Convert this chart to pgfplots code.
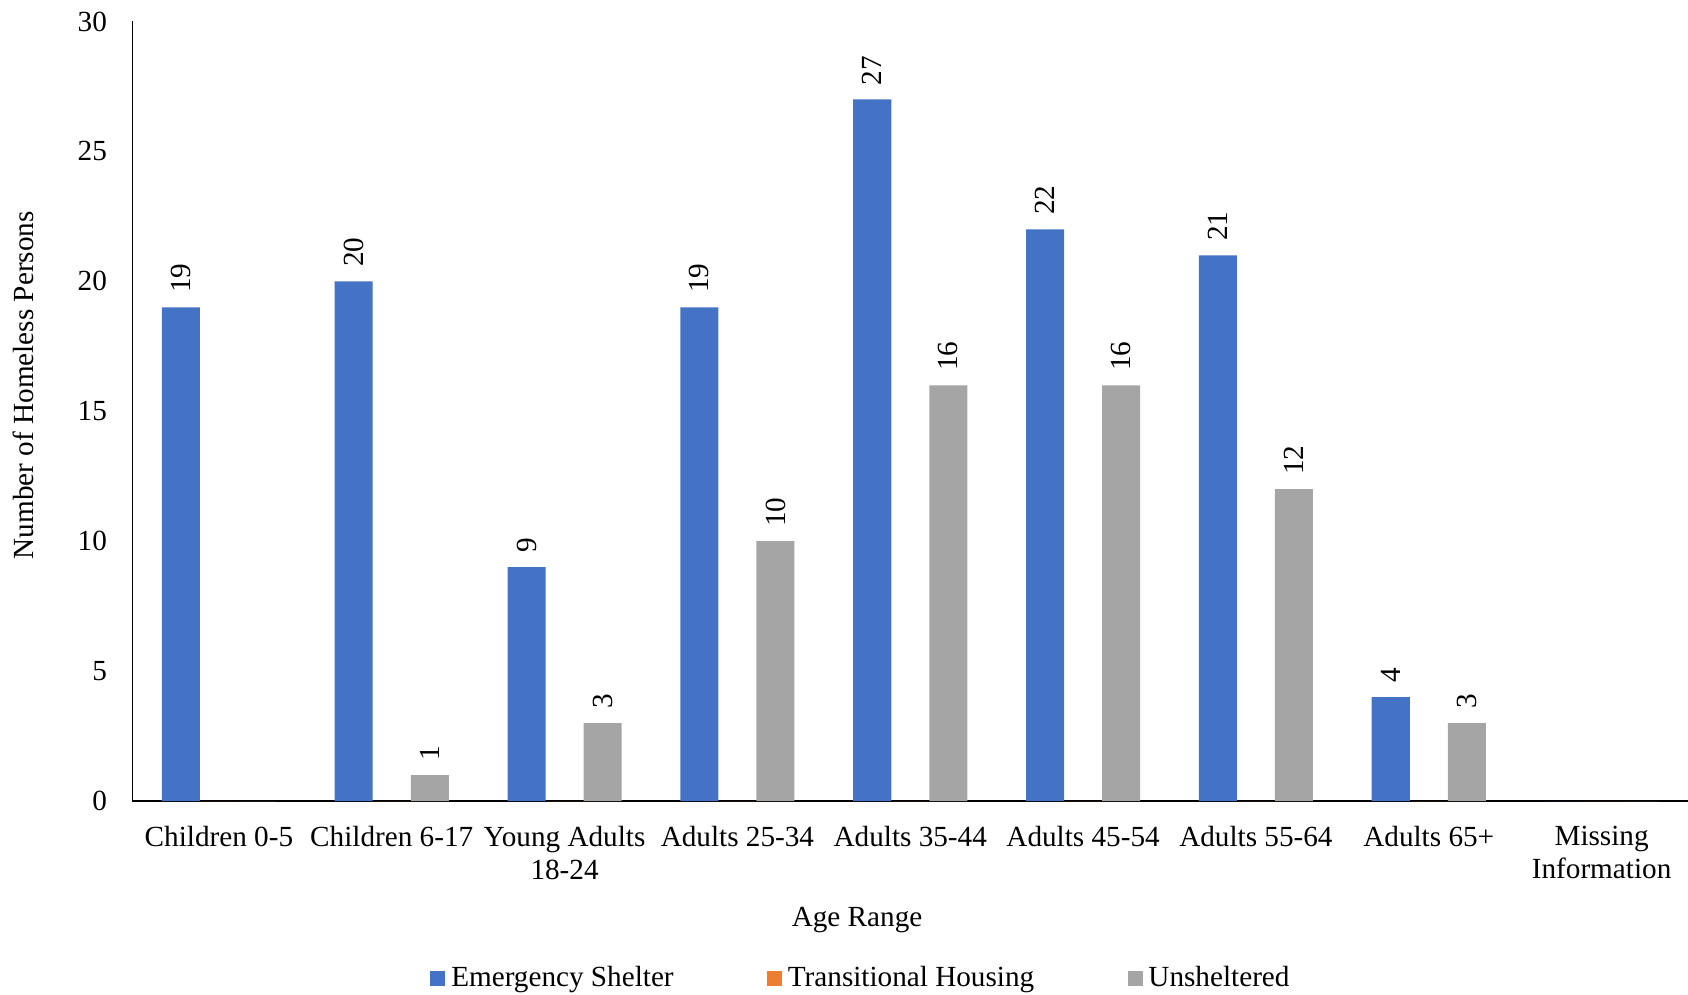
\documentclass[border=0pt]{standalone}
\usepackage{pgfplots}
\pgfplotsset{compat=1.18}
\usepackage{fontspec}
\setmainfont{Liberation Serif}
\definecolor{esblue}{HTML}{4472C4}
\definecolor{thorange}{HTML}{ED7D31}
\definecolor{unsgray}{HTML}{A5A5A5}
\newcommand{\chartfont}{\fontsize{14.6bp}{16.9bp}\selectfont}
\begin{document}
\chartfont
\begin{tikzpicture}
\begin{axis}[
  name=ax,
  scale only axis,
  width=777.75bp, height=389.75bp,
  xmin=-0.5, xmax=8.5,
  ymin=0, ymax=30,
  ytick={0,5,...,30},
  xtick={0,1,2,3,4,5,6,7,8},
  xticklabels={Children 0-5, Children 6-17, Young Adults\\18-24, Adults 25-34, Adults 35-44, Adults 45-54, Adults 55-64, Adults 65+, Missing\\Information},
  /pgf/number format/assume math mode=true,
  major tick length=0pt,
  axis x line*=bottom, axis y line*=left,
  axis line style={-, line width=0.8bp, black},
  ybar=0pt,
  bar width=0.22,
  font=\chartfont,
  tick label style={font=\chartfont},
  yticklabel style={anchor=east, inner xsep=0pt, xshift=-12.6bp},
  xticklabel style={align=center, anchor=north, inner ysep=0pt, yshift=-12.2bp, font=\chartfont},
  xlabel={Age Range},
  ylabel={Number of Homeless Persons},
  xlabel style={at={(axis description cs:0.4658,-0.1527)}, anchor=center, font=\chartfont},
  ylabel style={at={(axis description cs:-0.0699,0.5335)}, anchor=center, rotate=0, font=\chartfont},
  nodes near coords={\pgfmathfloatifflags{\pgfplotspointmeta}{0}{}{\rmfamily\pgfmathprintnumber[assume math mode=true]{\pgfplotspointmeta}}},
  every node near coord/.append style={rotate=90, anchor=west, inner xsep=7bp, inner ysep=0pt, font=\chartfont\rmfamily, black},
  legend columns=3,
  legend style={at={(axis description cs:0.1913,-0.2273)}, anchor=west, draw=none, fill=none, inner sep=0pt, font=\chartfont,
    nodes={inner sep=0pt},
    /tikz/every odd column/.append style={column sep=2.9bp},
    /tikz/every even column/.append style={column sep=46.7bp}},
  legend cell align=left,
  legend image code/.code={\fill[#1] (0bp,-3.75bp) rectangle (7.5bp,3.75bp);},
]
\addplot[fill=esblue, draw=none] coordinates {(0,19) (1,20) (2,9) (3,19) (4,27) (5,22) (6,21) (7,4) (8,0)};
\addlegendentry{Emergency Shelter}
\addplot[fill=thorange, draw=none] coordinates {(0,0) (1,0) (2,0) (3,0) (4,0) (5,0) (6,0) (7,0) (8,0)};
\addlegendentry{Transitional Housing}
\addplot[fill=unsgray, draw=none] coordinates {(0,0) (1,1) (2,3) (3,10) (4,16) (5,16) (6,12) (7,3) (8,0)};
\addlegendentry{Unsheltered}
\coordinate (BL) at (rel axis cs:0,0);
\coordinate (TR) at (rel axis cs:1,1);
\end{axis}
\pgfresetboundingbox
\path[use as bounding box] ([xshift=-66.25bp,yshift=-96.5bp]BL) rectangle ([yshift=10.75bp]TR);
\end{tikzpicture}
\end{document}
